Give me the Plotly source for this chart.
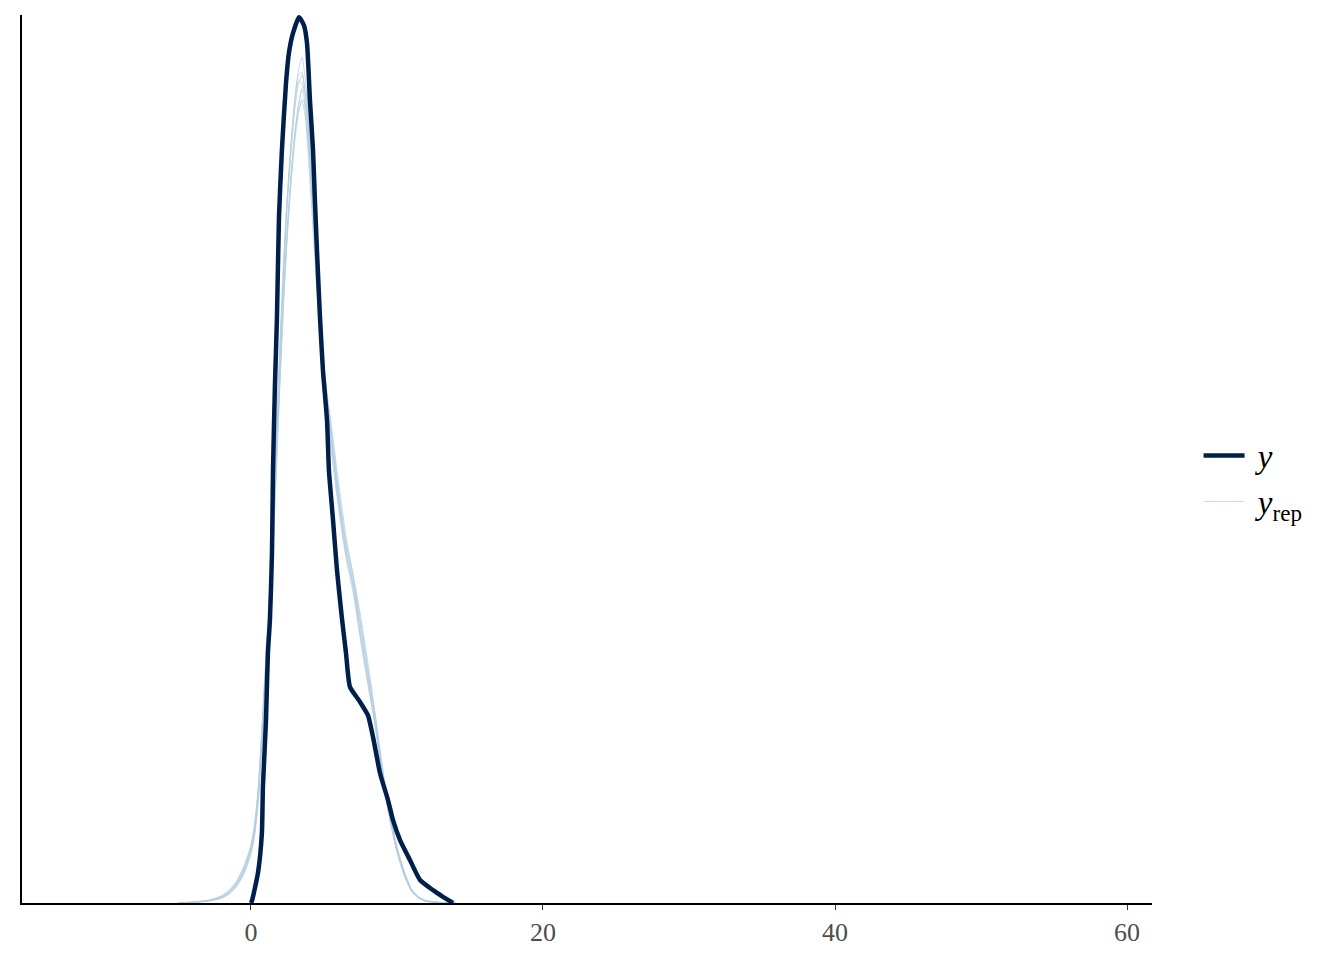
import plotly.graph_objects as go

# observed density (y)
y_x = [0.00, 0.07, 0.48, 0.75, 0.82, 1.03, 1.16, 1.30, 1.44, 1.51, 1.64, 1.78, 1.92,
       2.12, 2.40, 2.60, 2.88, 3.29, 3.63, 3.84, 4.04, 4.25, 4.38, 4.52, 4.73, 4.93,
       5.21, 5.34, 5.62, 5.89, 6.23, 6.51, 6.78, 7.47, 8.01, 8.36, 8.84, 9.38, 9.73,
       10.21, 10.89, 11.58, 12.47, 13.15, 13.84]
y_dens = [0.0000, 0.0005, 0.0068, 0.0158, 0.0262, 0.0413, 0.0564, 0.0639, 0.0790, 0.0977,
          0.1165, 0.1321, 0.1549, 0.1700, 0.1851, 0.1919, 0.1964, 0.2000, 0.1982, 0.1941,
          0.1813, 0.1700, 0.1587, 0.1474, 0.1321, 0.1203, 0.1090, 0.0977, 0.0865, 0.0752,
          0.0643, 0.0564, 0.0488, 0.0454, 0.0424, 0.0375, 0.0293, 0.0233, 0.0187, 0.0142,
          0.0097, 0.0052, 0.0029, 0.0014, 0.0000]

# replicated densities (y_rep), common grid
rep_x = [-5, -4, -3, -2.5, -2, -1.5, -1, -0.5, 0, 0.25, 0.5, 0.75, 1, 1.25, 1.5, 1.75,
         2, 2.25, 2.5, 2.75, 3, 3.25, 3.5, 3.75, 4, 4.25, 4.5, 4.75, 5, 5.5, 6, 6.5,
         7, 7.5, 8, 8.5, 9, 9.5, 10, 10.5, 11, 11.5, 12, 13, 14]

rep_1 = [0, 0.0001, 0.0004, 0.0007, 0.0012, 0.0022, 0.0040, 0.0070, 0.0118, 0.0162, 0.0240,
         0.0370, 0.0505, 0.0640, 0.0820, 0.1040, 0.1240, 0.1430, 0.1590, 0.1710, 0.1810,
         0.1880, 0.1910, 0.1850, 0.1720, 0.1570, 0.1420, 0.1300, 0.1170, 0.1040, 0.0900,
         0.0790, 0.0715, 0.0600, 0.0500, 0.0405, 0.0285, 0.0190, 0.0115, 0.0062, 0.0026,
         0.0011, 0.0004, 0.0001, 0]
rep_2 = [0, 0.0002, 0.0006, 0.0009, 0.0015, 0.0027, 0.0046, 0.0078, 0.0128, 0.0175, 0.0255,
         0.0385, 0.0520, 0.0650, 0.0810, 0.1010, 0.1200, 0.1380, 0.1520, 0.1630, 0.1720,
         0.1780, 0.1815, 0.1800, 0.1700, 0.1580, 0.1450, 0.1340, 0.1210, 0.1080, 0.0950,
         0.0830, 0.0740, 0.0640, 0.0530, 0.0420, 0.0300, 0.0200, 0.0125, 0.0070, 0.0030,
         0.0013, 0.0005, 0.0001, 0]
rep_3 = [0, 0.0001, 0.0005, 0.0008, 0.0014, 0.0025, 0.0044, 0.0075, 0.0125, 0.0172, 0.0255,
         0.0395, 0.0545, 0.0690, 0.0870, 0.1080, 0.1280, 0.1460, 0.1600, 0.1710, 0.1800,
         0.1855, 0.1850, 0.1770, 0.1650, 0.1520, 0.1390, 0.1280, 0.1160, 0.1020, 0.0890,
         0.0780, 0.0700, 0.0595, 0.0495, 0.0400, 0.0285, 0.0190, 0.0118, 0.0064, 0.0027,
         0.0011, 0.0004, 0.0001, 0]
rep_4 = [0, 0.0001, 0.0004, 0.0007, 0.0012, 0.0021, 0.0038, 0.0066, 0.0112, 0.0155, 0.0230,
         0.0360, 0.0495, 0.0625, 0.0790, 0.0990, 0.1190, 0.1370, 0.1520, 0.1640, 0.1740,
         0.1800, 0.1835, 0.1830, 0.1730, 0.1600, 0.1460, 0.1330, 0.1190, 0.1050, 0.0920,
         0.0810, 0.0740, 0.0650, 0.0545, 0.0430, 0.0310, 0.0205, 0.0128, 0.0072, 0.0032,
         0.0014, 0.0006, 0.0001, 0]
rep_5 = [0, 0.0002, 0.0005, 0.0009, 0.0015, 0.0026, 0.0045, 0.0076, 0.0124, 0.0170, 0.0250,
         0.0385, 0.0530, 0.0670, 0.0850, 0.1060, 0.1260, 0.1450, 0.1600, 0.1720, 0.1815,
         0.1870, 0.1875, 0.1800, 0.1680, 0.1545, 0.1410, 0.1300, 0.1180, 0.1050, 0.0910,
         0.0795, 0.0710, 0.0605, 0.0505, 0.0405, 0.0290, 0.0192, 0.0118, 0.0064, 0.0027,
         0.0011, 0.0004, 0.0001, 0]
rep_6 = [0, 0.0002, 0.0006, 0.0010, 0.0017, 0.0029, 0.0049, 0.0082, 0.0132, 0.0180, 0.0262,
         0.0395, 0.0535, 0.0665, 0.0830, 0.1025, 0.1215, 0.1390, 0.1535, 0.1650, 0.1735,
         0.1790, 0.1810, 0.1770, 0.1680, 0.1565, 0.1440, 0.1320, 0.1200, 0.1070, 0.0935,
         0.0820, 0.0735, 0.0625, 0.0520, 0.0415, 0.0298, 0.0198, 0.0122, 0.0067, 0.0029,
         0.0012, 0.0005, 0.0001, 0]
rep_7 = [0, 0.0001, 0.0004, 0.0007, 0.0011, 0.0020, 0.0036, 0.0064, 0.0110, 0.0152, 0.0228,
         0.0355, 0.0490, 0.0620, 0.0785, 0.0985, 0.1180, 0.1360, 0.1510, 0.1630, 0.1730,
         0.1800, 0.1840, 0.1845, 0.1760, 0.1630, 0.1480, 0.1350, 0.1210, 0.1065, 0.0925,
         0.0805, 0.0725, 0.0630, 0.0530, 0.0425, 0.0302, 0.0200, 0.0123, 0.0068, 0.0029,
         0.0012, 0.0005, 0.0001, 0]
rep_8 = [0, 0.0002, 0.0005, 0.0008, 0.0013, 0.0023, 0.0041, 0.0071, 0.0119, 0.0164, 0.0242,
         0.0375, 0.0515, 0.0655, 0.0835, 0.1050, 0.1250, 0.1435, 0.1585, 0.1700, 0.1790,
         0.1850, 0.1870, 0.1820, 0.1710, 0.1580, 0.1440, 0.1315, 0.1185, 0.1045, 0.0905,
         0.0795, 0.0720, 0.0610, 0.0510, 0.0410, 0.0290, 0.0193, 0.0118, 0.0064, 0.0027,
         0.0011, 0.0004, 0.0001, 0]

rep_series = [rep_1, rep_2, rep_3, rep_4, rep_5, rep_6, rep_7, rep_8]

x_ticks = [0, 20, 40, 60]

DARK = '#011f4b'
LIGHT = 'rgba(179, 205, 224, 0.75)'
SERIF = 'Liberation Serif'

fig = go.Figure()

for i, dens in enumerate(rep_series):
    fig.add_trace(go.Scatter(
        x=rep_x,
        y=dens,
        mode='lines',
        line=dict(color=LIGHT, width=1, shape='spline', smoothing=0.6),
        name='&nbsp;<i>y</i><sub>rep</sub>',
        legendgroup='yrep',
        showlegend=(i == 0),
        legendrank=2,
        hoverinfo='skip'
    ))

fig.add_trace(go.Scatter(
    x=y_x,
    y=y_dens,
    mode='lines',
    line=dict(color=DARK, width=4.5, shape='spline', smoothing=0.5),
    name='&nbsp;<i>y</i>',
    legendrank=1,
    hoverinfo='skip'
))

fig.update_layout(
    width=1344,
    height=960,
    plot_bgcolor='white',
    paper_bgcolor='white',
    margin=dict(l=22, r=192, t=15, b=57),
    font=dict(family=SERIF, size=26, color='#4d4d4d'),
    legend=dict(
        x=1.0412, y=0.478, xanchor='left', yanchor='middle',
        font=dict(family=SERIF, size=33, color='black'),
        bgcolor='rgba(0,0,0,0)',
        itemwidth=41,
        tracegroupgap=0
    ),
    xaxis=dict(
        range=[-15.68, 61.71],
        tickvals=x_ticks,
        ticks='outside', ticklen=5, tickwidth=1, tickcolor='#333333',
        showline=True, linecolor='black', linewidth=2,
        showgrid=False, zeroline=False,
        tickfont=dict(family=SERIF, size=26, color='#4d4d4d')
    ),
    yaxis=dict(
        range=[0, 0.2005],
        showticklabels=False, ticks='',
        showline=True, linecolor='black', linewidth=2,
        showgrid=False, zeroline=False
    )
)

fig.write_html(
    "out.html",
    config={'displayModeBar': False},
    post_script="document.body.style.margin = '0';"
)
